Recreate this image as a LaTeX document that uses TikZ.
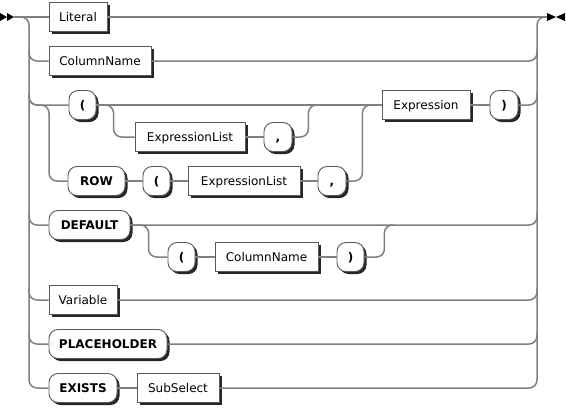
\documentclass[tikz,border=0pt]{standalone}
\usepackage{fontspec}
\setmainfont{DejaVu Sans}
\usetikzlibrary{calc,shadows}
\begin{document}
\begin{tikzpicture}[x=1pt,y=-1pt,
  rail/.style={draw=black!50,line width=1.5pt,rounded corners=8pt},
  box/.style={draw=black!65,fill=white,line width=.9pt,minimum height=29pt,inner sep=0pt,
    text height=10pt,text depth=2pt,font=\fontsize{12}{14}\selectfont,
    drop shadow={opacity=1,fill=black!85,shadow xshift=2.5pt,shadow yshift=-2.5pt}},
  nt/.style={box,minimum width=#1},
  kw/.style={box,rounded corners=9pt,minimum width=#1,font=\fontsize{12}{14}\selectfont\bfseries}]
\useasboundingbox (0,0) rectangle (566,408);
\coordinate (start) at (14,17);
\coordinate (finish) at (547,17);
\coordinate (lrail) at (29,17);
\coordinate (rrail) at (537,17);
\coordinate (fork) at (49,105);
\node[nt=58pt] (lit) at (78,17) {Literal};
\node[nt=102pt] (col) at (100,61) {ColumnName};
\node[kw=27pt] (lp1) at (82.5,105) {(};
\node[nt=110pt] (el1) at (190,137) {ExpressionList};
\node[kw=28pt] (c1) at (278,137) {,};
\node[kw=57pt] (row) at (96.5,181) {ROW};
\node[kw=27pt] (lp2) at (156.5,181) {(};
\node[nt=112pt] (el2) at (244,181) {ExpressionList};
\node[kw=28pt] (c2) at (332,181) {,};
\node[nt=88pt] (expr) at (426,105) {Expression};
\node[kw=28pt] (rp1) at (504,105) {)};
\node[kw=81pt] (def) at (89.5,225) {DEFAULT};
\node[kw=27pt] (lp3) at (181.5,257) {(};
\node[nt=103pt] (cn2) at (266.5,257) {ColumnName};
\node[kw=27pt] (rp2) at (350.5,257) {)};
\node[nt=68pt] (var) at (83,300) {Variable};
\node[kw=118pt] (ph) at (108,344) {PLACEHOLDER};
\node[kw=68pt] (exi) at (83,388) {EXISTS};
\node[nt=82pt] (sub) at (178,388) {SubSelect};
\fill (start) ++(-14,-4) -- ++(7,4) -- ++(-7,4) -- cycle
      (start) ++(-7,-4) -- ++(7,4) -- ++(-7,4) -- cycle;
\fill (finish) ++(0,-4) -- ++(9,4) -- ++(-9,4) -- cycle
      (finish) ++(18,-4) -- ++(-9,4) -- ++(9,4) -- cycle;
\draw[rail] (start) -- (lit.west) (lit.east) -- (finish);
\draw[rail] (start) -| (lrail |- exi) -- (exi.west);
\draw[rail] (sub.east) -| (rrail) -- (finish);
\foreach \n in {col,lp1,def,var,ph}
  \draw[rail] ($(lrail |- \n)+(0,-12)$) |- (\n.west);
\foreach \n in {col,rp1,def,var,ph}
  \draw[rail] (\n.east) -| ($(rrail |- \n)+(0,-12)$);
\draw[rail] ($(lrail |- lp1)+(0,-12)$) |- (fork) |- (row.west);
\draw[rail] (lp1.east) -- (expr.west) (expr.east) -- (rp1.west);
\draw[rail] (lp1.east) -| ($(el1.west)+(-21,0)$) -- (el1.west);
\draw[rail] (el1.east) -- (c1.west);
\draw[rail] (c1.east) -| ++(16,-32) -- ++(10,0);
\draw[rail] (row.east) -- (lp2.west) (lp2.east) -- (el2.west) (el2.east) -- (c2.west);
\draw[rail] (c2.east) -| ++(16,-76) -- ++(10,0);
\draw[rail] (def.east) -| ($(lp3.west)+(-19,0)$) -- (lp3.west);
\draw[rail] (lp3.east) -- (cn2.west) (cn2.east) -- (rp2.west);
\draw[rail] (rp2.east) -| ++(20,-32) -- ++(10,0);
\draw[rail] (exi.east) -- (sub.west);
\end{tikzpicture}
\end{document}
